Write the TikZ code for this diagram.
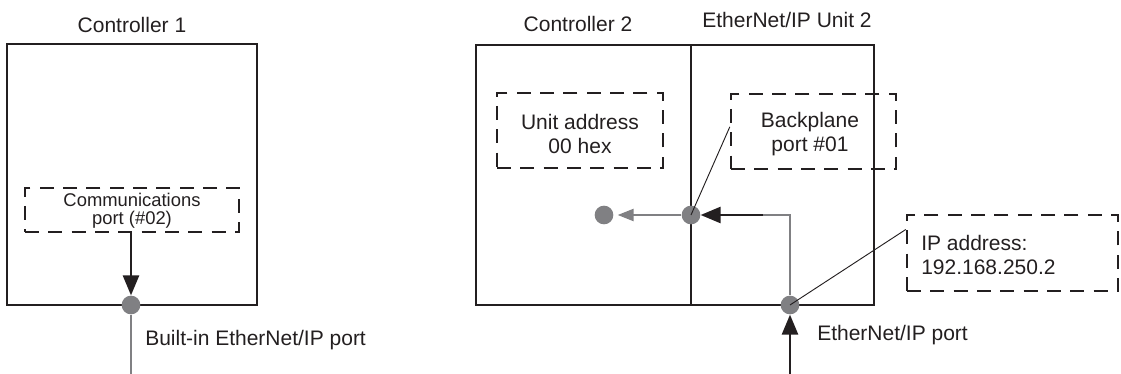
\documentclass[tikz,border=0pt]{standalone}
\usepackage{fontspec}
\setmainfont{Liberation Sans}
\usetikzlibrary{arrows.meta,fit,calc}
\definecolor{ink}{RGB}{35,31,32}
\definecolor{cgray}{RGB}{128,128,131}
\begin{document}
\begin{tikzpicture}[x=0.75pt,y=-0.75pt,
  lbl/.style={font=\fontsize{15.75}{18}\selectfont, inner sep=0pt, text=ink},
  smalllbl/.style={font=\fontsize{13.8}{13.5}\selectfont, inner sep=0pt, align=center, text=ink},
  unitbox/.style={draw=ink, line width=2.2pt, inner sep=0pt},
  dashbox/.style={draw=ink, line width=1.8pt, dash pattern=on 10.5pt off 7pt, inner sep=0pt},
  portdot/.style={circle, fill=cgray, minimum size=14pt, inner sep=0pt},
  blackarrow/.style={draw=ink, line width=1.9pt, -{Triangle[length=15pt,width=12pt]}},
  grayline/.style={draw=cgray, line width=1.7pt},
  grayarrow/.style={draw=cgray, line width=1.7pt, -{Triangle[length=12pt,width=9pt]}},
  leader/.style={draw=ink, line width=0.7pt},
]
\useasboundingbox (0,0) rectangle (1121,374);

% ---------- Controller 1 ----------
\node[lbl] (t1) at (132,25) {Controller 1};
\node[unitbox, fit={(7,44) (257,305)}] (c1) {};
\node[dashbox, fit={(25,188) (239,232)}] (cp) {};
\node[smalllbl] (cptext) at (132,211) {Communications\\port (\#02)};
\node[portdot] (p1) at (131,305) {};
\coordinate (p1end) at (131,374);
\draw[blackarrow] (p1 |- cp.south) -- (p1);
\draw[grayline] (p1) -- (p1end);
\node[lbl, anchor=west] (bip) at (145,340) {Built-in EtherNet/IP port};

% ---------- Controller 2 + EtherNet/IP Unit 2 ----------
\node[lbl] (t2) at (578,24) {Controller 2};
\node[lbl] (t3) at (787,20) {EtherNet/IP Unit 2};
\node[unitbox, fit={(476,45) (691,305)}] (c2) {};
\node[unitbox, fit={(691,45) (874,305)}] (u2) {};

\node[dashbox, fit={(497,93) (663,168)}] (ua) {};
\node[lbl, align=center] (uatext) at (580,134) {Unit address\\00 hex};

\node[dashbox, fit={(731,94) (896,169)}] (bp) {};
\node[lbl, align=center] (bptext) at (810,134) {Backplane\\port \#01};

\node[dashbox, fit={(907,215) (1118,291)}] (ip) {};
\node[lbl, align=left, anchor=west] (iptext) at (921,255) {IP address:\\192.168.250.2};

\node[portdot] (bp1) at (691,215) {};
\node[portdot] (dst) at (604,215) {};
\node[portdot] (ep) at (790,305) {};
\coordinate (k) at (763,215);
\coordinate (corner) at (790,215);
\coordinate (epend) at (790,374);

\draw[grayarrow, shorten >=3pt] (bp1) -- (dst);
\draw[grayline] (k) -- (corner) -- (ep);
\draw[blackarrow] (k) -- (bp1);
\draw[blackarrow] (epend) -- (ep);

\draw[leader] (bp1.center) -- ($(bp.north west)!0.44!(bp.south west)$);
\draw[leader] (ep.center) -- ($(ip.north west)!0.2!(ip.south west)$);

\node[lbl, anchor=west] (eplbl) at (817,335) {EtherNet/IP port};
\end{tikzpicture}
\end{document}
